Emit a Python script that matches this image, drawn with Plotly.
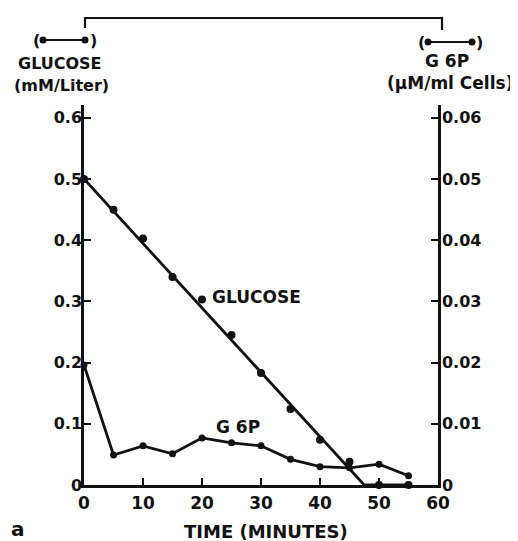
import plotly.graph_objects as go

# ---------------- data ----------------
time_min = [0, 5, 10, 15, 20, 25, 30, 35, 40, 45, 50, 55]
glucose = [0.50, 0.45, 0.403, 0.340, 0.303, 0.245, 0.183, 0.124, 0.074, 0.038, 0.0, 0.0]
g6p = [0.0196, 0.0049, 0.0064, 0.0051, 0.0077, 0.0069, 0.0064, 0.0042, 0.0030, 0.0028, 0.0034, 0.0015]
glucose_fit_t = [0, 47.5, 55]
glucose_fit = [0.50, 0.0, 0.0]

x_ticks = [0, 10, 20, 30, 40, 50, 60]
x_labels = ["0", "10", "20", "30", "40", "50", "60"]
y_left_ticks = [0, 0.1, 0.2, 0.3, 0.4, 0.5, 0.6]
y_left_labels = ["0", "0.1", "0.2", "0.3", "0.4", "0.5", "0.6"]
y_right_ticks = [0, 0.01, 0.02, 0.03, 0.04, 0.05, 0.06]
y_right_labels = ["0", "0.01", "0.02", "0.03", "0.04", "0.05", "0.06"]

# ---------------- layout geometry ----------------
OFF = 8  # page body margin
W, H = 518 - OFF, 541 - OFF
L, R, T, B = 84, 438, 105, 485  # plot area in reference pixels


def px(x):
    return (x - L) / (R - L)


def py(y):
    return (B - y) / (B - T)


FONT = "DejaVu Sans"
BLACK = "#111111"

fig = go.Figure()

fig.add_trace(go.Scatter(
    x=glucose_fit_t, y=glucose_fit, mode="lines",
    line=dict(color=BLACK, width=2.8), showlegend=False, cliponaxis=False,
))
fig.add_trace(go.Scatter(
    x=time_min, y=glucose, mode="markers",
    marker=dict(color=BLACK, size=8), showlegend=False, cliponaxis=False,
))
fig.add_trace(go.Scatter(
    x=time_min, y=g6p, mode="lines+markers", yaxis="y2",
    line=dict(color=BLACK, width=2.8),
    marker=dict(color=BLACK, size=7), showlegend=False, cliponaxis=False,
))

tickfont = dict(family=FONT, size=16, color=BLACK, weight="bold")

fig.update_layout(
    width=W, height=H,
    margin=dict(l=L - OFF, r=W - (R - OFF), t=T - OFF, b=H - (B - OFF), pad=0),
    paper_bgcolor="white", plot_bgcolor="white",
    xaxis=dict(
        range=[0, 60], tickvals=x_ticks, ticktext=x_labels,
        showgrid=False, zeroline=False, showline=True, linecolor=BLACK, linewidth=2.5,
        ticks="inside", ticklen=7, tickwidth=2, tickcolor=BLACK,
        tickfont=dict(family=FONT, size=17, color=BLACK, weight="bold"),
        ticklabelstandoff=1,
    ),
    yaxis=dict(
        range=[0, 0.621], tickvals=y_left_ticks, ticktext=y_left_labels,
        showgrid=False, zeroline=False, showline=True, linecolor=BLACK, linewidth=2.5,
        ticks="inside", ticklen=7, tickwidth=2, tickcolor=BLACK,
        tickfont=tickfont, ticklabelstandoff=-4,
    ),
    yaxis2=dict(
        range=[0, 0.0621], tickvals=y_right_ticks, ticktext=y_right_labels,
        overlaying="y", side="right",
        showgrid=False, zeroline=False, showline=True, linecolor=BLACK, linewidth=2.5,
        ticks="inside", ticklen=7, tickwidth=2, tickcolor=BLACK,
        tickfont=tickfont, ticklabelstandoff=-2,
    ),
)


def note(text, x, y, size=17, xanchor="center"):
    fig.add_annotation(
        text=text, x=px(x), y=py(y), xref="paper", yref="paper",
        showarrow=False, xanchor=xanchor, yanchor="middle",
        font=dict(family=FONT, size=size, color=BLACK, weight="bold"),
    )


# in-plot labels
note("GLUCOSE", 256, 297, 17)
note("G 6P", 238, 427, 17)
note("TIME (MINUTES)", 266, 531, 18)
note("a", 18, 529, 20)

# left header
note("GLUCOSE", 60, 63, 16)
note("(mM/Liter)", 61, 85, 16)
note("(", 36, 40, 16)
note(")", 93, 40, 16)
# right header
note("G 6P", 447, 61, 17)
note("(µM/ml Cells)", 450, 83, 17)
note("(", 421, 42, 16)
note(")", 480, 42, 16)

# bracket across the top
line_style = dict(color=BLACK, width=2.2)
fig.add_shape(type="path", xref="paper", yref="paper",
              path=f"M {px(85)} {py(28)} L {px(85)} {py(18)} L {px(442)} {py(18)} L {px(442)} {py(30)}",
              line=line_style)

# legend keys (dot - line - dot)
for (x0, x1, yy) in [(43, 85, 40), (428, 472, 42)]:
    fig.add_shape(type="line", xref="paper", yref="paper",
                  x0=px(x0), x1=px(x1), y0=py(yy), y1=py(yy), line=line_style)
    for xc in (x0, x1):
        fig.add_shape(type="circle", xref="paper", yref="paper",
                      x0=px(xc - 3.5), x1=px(xc + 3.5), y0=py(yy + 3.5), y1=py(yy - 3.5),
                      fillcolor=BLACK, line=dict(color=BLACK, width=0))

fig.write_html("out.html")
